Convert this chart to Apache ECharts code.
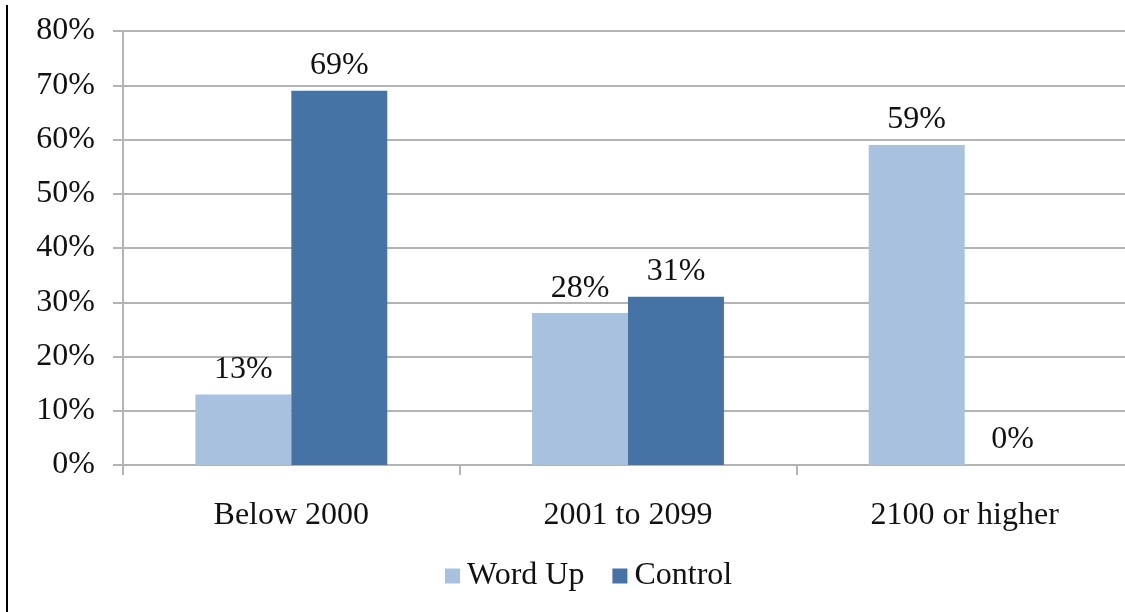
<!DOCTYPE html>
<html>
<head>
<meta charset="utf-8">
<title>Word Up vs Control</title>
<script src="https://cdn.jsdelivr.net/npm/echarts@6/dist/echarts.min.js"></script>
<style>
  html, body { margin: 0; padding: 0; background: #ffffff; }
  #chart { width: 1125px; height: 612px; }
</style>
</head>
<body>
<div id="chart"></div>
<script>
// Score bands and the share of each group falling in them (percent)
const categories = ['Below 2000', '2001 to 2099', '2100 or higher'];
const seriesNames = ['Word Up', 'Control'];
const wordUpValues = [13, 28, 59];
const controlValues = [69, 31, 0];
const yTicks = [0, 10, 20, 30, 40, 50, 60, 70, 80];

const FONT = '"Liberation Serif", "Times New Roman", serif';
const GRID_COLOR = '#b4b4b4';
const COLORS = ['#a7c1df', '#4573a6'];
const FS = 32;

const chart = echarts.init(document.getElementById('chart'), null, { renderer: 'canvas' });

const labelStyle = {
  show: true,
  position: 'top',
  distance: 9,
  formatter: p => p.value + '%',
  fontFamily: FONT,
  fontSize: FS,
  color: '#111111'
};

chart.setOption({
  animation: false,
  backgroundColor: '#ffffff',
  textStyle: { fontFamily: FONT },
  graphic: [{
    type: 'rect',
    shape: { x: 6, y: 5, width: 2, height: 612 },
    style: { fill: '#000000' }
  }],
  // plot area runs slightly past the right edge of the canvas
  grid: {
    left: 123, width: 1010, top: 31, height: 434,
    containLabel: false, outerBoundsMode: 'none'
  },
  legend: {
    data: seriesNames,
    bottom: 15,
    left: 440,
    icon: 'rect',
    itemWidth: 15,
    itemHeight: 15,
    itemGap: 28,
    textStyle: { fontFamily: FONT, fontSize: FS, color: '#111111', padding: [0, 0, 0, 2] }
  },
  xAxis: {
    type: 'category',
    data: categories,
    axisLine: { show: true, lineStyle: { color: GRID_COLOR, width: 2 } },
    axisTick: { show: true, length: 10, lineStyle: { color: GRID_COLOR, width: 2 } },
    axisLabel: { fontFamily: FONT, fontSize: FS, color: '#111111', margin: 35 }
  },
  yAxis: {
    type: 'value',
    min: yTicks[0],
    max: yTicks[yTicks.length - 1],
    interval: yTicks[1] - yTicks[0],
    axisLine: { show: true, lineStyle: { color: GRID_COLOR, width: 2 } },
    axisTick: { show: true, length: 10, lineStyle: { color: GRID_COLOR, width: 2 } },
    splitLine: { show: true, lineStyle: { color: GRID_COLOR, width: 2 } },
    axisLabel: {
      fontFamily: FONT, fontSize: FS, color: '#111111', margin: 28,
      formatter: v => v + '%'
    }
  },
  series: [
    {
      name: seriesNames[0],
      type: 'bar',
      data: wordUpValues,
      itemStyle: { color: COLORS[0] },
      barGap: '0%',
      barCategoryGap: '43%',
      label: labelStyle
    },
    {
      name: seriesNames[1],
      type: 'bar',
      data: controlValues,
      itemStyle: { color: COLORS[1] },
      barGap: '0%',
      barCategoryGap: '43%',
      label: labelStyle
    }
  ]
});
</script>
</body>
</html>
